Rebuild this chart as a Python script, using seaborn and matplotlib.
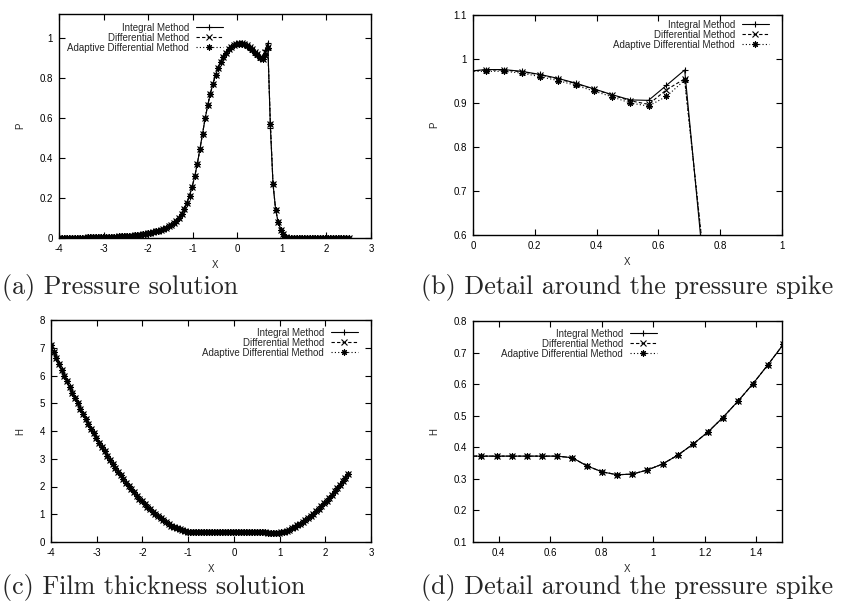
import matplotlib
matplotlib.use("Agg")
import matplotlib.pyplot as plt
import seaborn as sns

# grid points (same for all methods)
x_grid = [-4.000, -3.941, -3.883, -3.824, -3.766, -3.707, -3.649, -3.590, -3.532, -3.473,
          -3.414, -3.356, -3.297, -3.239, -3.180, -3.122, -3.063, -3.005, -2.946, -2.887,
          -2.829, -2.770, -2.712, -2.653, -2.595, -2.536, -2.477, -2.419, -2.360, -2.302,
          -2.243, -2.185, -2.126, -2.068, -2.009, -1.950, -1.892, -1.833, -1.775, -1.716,
          -1.658, -1.599, -1.541, -1.482, -1.423, -1.365, -1.306, -1.248, -1.189, -1.131,
          -1.072, -1.014, -0.955, -0.896, -0.838, -0.779, -0.721, -0.662, -0.604, -0.545,
          -0.486, -0.428, -0.369, -0.311, -0.252, -0.194, -0.135, -0.077, -0.018, 0.041,
          0.099, 0.158, 0.216, 0.275, 0.333, 0.392, 0.450, 0.509, 0.568, 0.626,
          0.685, 0.743, 0.802, 0.860, 0.919, 0.977, 1.036, 1.095, 1.153, 1.212,
          1.270, 1.329, 1.387, 1.446, 1.505, 1.563, 1.622, 1.680, 1.739, 1.797,
          1.856, 1.914, 1.973, 2.032, 2.090, 2.149, 2.207, 2.266, 2.324, 2.383,
          2.441, 2.500]

# pressure, integral method
p_integral = [0.001, 0.001, 0.001, 0.001, 0.001, 0.001, 0.002, 0.002, 0.002, 0.002,
              0.002, 0.003, 0.003, 0.003, 0.003, 0.004, 0.004, 0.004, 0.005, 0.005,
              0.006, 0.006, 0.007, 0.008, 0.008, 0.009, 0.010, 0.011, 0.012, 0.014,
              0.015, 0.017, 0.019, 0.021, 0.024, 0.027, 0.030, 0.033, 0.037, 0.041,
              0.046, 0.052, 0.058, 0.066, 0.075, 0.087, 0.102, 0.120, 0.145, 0.175,
              0.212, 0.255, 0.308, 0.372, 0.445, 0.522, 0.598, 0.665, 0.722, 0.772,
              0.815, 0.852, 0.882, 0.907, 0.927, 0.943, 0.955, 0.965, 0.972, 0.976,
              0.976, 0.972, 0.965, 0.956, 0.945, 0.932, 0.919, 0.907, 0.906, 0.940,
              0.975, 0.550, 0.270, 0.142, 0.078, 0.042, 0.018, 0.007, 0.002, 0.001,
              0.0, 0.0, 0.0, 0.0, 0.0, 0.0, 0.0, 0.0, 0.0, 0.0,
              0.0, 0.0, 0.0, 0.0, 0.0, 0.0, 0.0, 0.0, 0.0, 0.0,
              0.0, 0.0]

# the other two methods only differ visibly near the spike (points 69..81)
p_diff_spike = [0.975, 0.975, 0.971, 0.964, 0.955, 0.944, 0.931, 0.918, 0.905, 0.897,
                0.930, 0.955, 0.570]
p_adapt_spike = [0.972, 0.972, 0.968, 0.960, 0.951, 0.940, 0.927, 0.914, 0.900, 0.893,
                 0.915, 0.952, 0.570]
p_differential = p_integral[:69] + p_diff_spike + p_integral[82:]
p_adaptive = p_integral[:69] + p_adapt_spike + p_integral[82:]

# film thickness (all three methods coincide)
h_integral = [7.086, 6.861, 6.640, 6.422, 6.208, 5.997, 5.789, 5.586, 5.386, 5.189,
              4.996, 4.807, 4.621, 4.439, 4.260, 4.085, 3.914, 3.746, 3.582, 3.421,
              3.265, 3.112, 2.962, 2.817, 2.674, 2.536, 2.401, 2.271, 2.144, 2.020,
              1.901, 1.785, 1.673, 1.565, 1.461, 1.361, 1.265, 1.173, 1.085, 1.001,
              0.922, 0.847, 0.776, 0.709, 0.648, 0.591, 0.539, 0.492, 0.452, 0.417,
              0.390, 0.374, 0.372, 0.372, 0.372, 0.372, 0.372, 0.372, 0.372, 0.372,
              0.372, 0.372, 0.372, 0.372, 0.372, 0.372, 0.372, 0.372, 0.372, 0.372,
              0.372, 0.372, 0.372, 0.372, 0.372, 0.372, 0.372, 0.372, 0.372, 0.372,
              0.367, 0.341, 0.322, 0.313, 0.315, 0.328, 0.347, 0.375, 0.409, 0.448,
              0.494, 0.546, 0.601, 0.662, 0.726, 0.795, 0.867, 0.944, 1.025, 1.111,
              1.201, 1.295, 1.392, 1.494, 1.600, 1.710, 1.823, 1.940, 2.061, 2.186,
              2.314, 2.445]
h_differential = h_integral
h_adaptive = h_integral

method_names = ["Integral Method", "Differential Method", "Adaptive Differential Method"]
captions = ["(a) Pressure solution", "(b) Detail around the pressure spike",
            "(c) Film thickness solution", "(d) Detail around the pressure spike"]

sns.set_style("ticks")
plt.rcParams["font.family"] = ["Liberation Sans", "DejaVu Sans"]
plt.rcParams["axes.unicode_minus"] = False
plt.rcParams["xtick.direction"] = "in"
plt.rcParams["ytick.direction"] = "in"
plt.rcParams["xtick.top"] = True
plt.rcParams["ytick.right"] = True

styles = [
    dict(linestyle="-", marker="+"),
    dict(linestyle=(0, (3, 2)), marker="x"),
    dict(linestyle=(0, (1, 2)), marker=(8, 2, 0)),
]


def tick_fmt(v):
    return ("%g" % round(v, 6))


def panel(rect, series, xlim, ylim, xticks, yticks, ylabel, leg_at):
    ax = fig.add_axes(rect)
    for (ys, name, st) in zip(series, method_names, styles):
        sns.lineplot(x=x_grid, y=ys, ax=ax, color="black", linewidth=0.8,
                     markersize=4.5, markeredgewidth=0.8, markeredgecolor="black",
                     sort=False, estimator=None, label=name, **st)
    ax.set_xlim(*xlim)
    ax.set_ylim(*ylim)
    ax.set_xticks(xticks)
    ax.set_xticklabels([tick_fmt(t) for t in xticks])
    ax.set_yticks(yticks)
    ax.set_yticklabels([tick_fmt(t) for t in yticks])
    ax.tick_params(labelsize=7, length=4, width=0.8, pad=4.5, colors="black")
    for s in ax.spines.values():
        s.set_linewidth(1.0)
        s.set_color("black")
    ax.set_xlabel("X", fontsize=7, labelpad=4)
    ax.set_ylabel(ylabel, fontsize=7, labelpad=10)
    ax.legend(loc="upper right", bbox_to_anchor=leg_at, frameon=False,
              markerfirst=False, fontsize=7, handlelength=2.8,
              handletextpad=0.7, labelspacing=0.0, borderpad=0,
              borderaxespad=0, numpoints=1)
    return ax


fig = plt.figure(figsize=(8.43, 6.15), dpi=100)
W, H = 843.0, 615.0


def rect(l, r, t, b):
    return [l / W, 1 - b / H, (r - l) / W, (b - t) / H]


p_series = [p_integral, p_differential, p_adaptive]
h_series = [h_integral, h_differential, h_adaptive]

panel(rect(59, 371, 14, 238), p_series, (-4, 3), (0, 1.12),
      list(range(-4, 4)), [0, 0.2, 0.4, 0.6, 0.8, 1.0], "P", (0.525, 0.962))
panel(rect(473, 782, 15, 235), p_series, (0, 1), (0.6, 1.1),
      [0, 0.2, 0.4, 0.6, 0.8, 1.0], [0.6, 0.7, 0.8, 0.9, 1.0, 1.1], "P", (0.958, 0.979))
panel(rect(51, 371, 320, 542), h_series, (-4, 3), (0, 8),
      list(range(-4, 4)), list(range(0, 9)), "H", (0.959, 0.966))
panel(rect(473, 782, 321, 542), h_series, (0.3, 1.5), (0.1, 0.8),
      [0.4, 0.6, 0.8, 1.0, 1.2, 1.4], [0.1, 0.2, 0.3, 0.4, 0.5, 0.6, 0.7, 0.8], "H",
      (0.595, 0.965))

cap_pos = [(2, 294), (421, 294), (2, 594), (421, 594)]
for (cx, cy), txt in zip(cap_pos, captions):
    fig.text(cx / W, 1 - cy / H, txt, fontfamily="cmr10", fontsize=18.7,
             ha="left", va="baseline")

fig.savefig("out.png", dpi=100)
